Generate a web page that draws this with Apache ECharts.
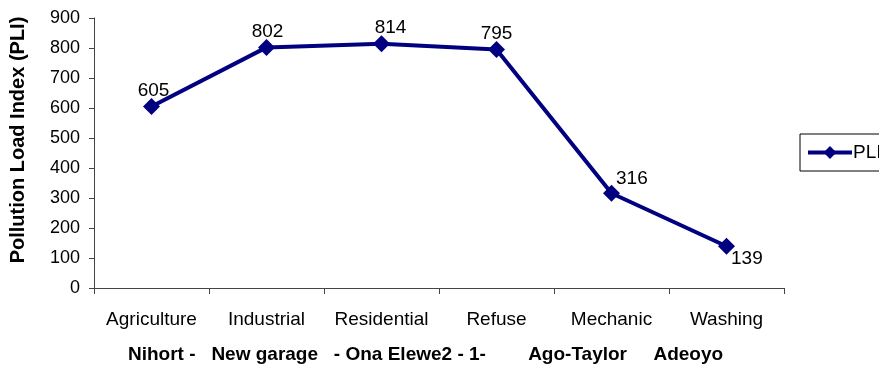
<!DOCTYPE html>
<html>
<head>
<meta charset="utf-8">
<style>
  html, body { margin: 0; padding: 0; background: #fff; }
  #chart { width: 879px; height: 372px; }
</style>
<script src="https://cdn.jsdelivr.net/npm/echarts@6/dist/echarts.min.js"></script>
</head>
<body>
<div id="chart"></div>
<script>
// Pollution load index per sampling site
const categories = ['Agriculture', 'Industrial', 'Residential', 'Refuse', 'Mechanic', 'Washing'];
const pliValues = [605, 802, 814, 795, 316, 139];
const yTicks = { min: 0, max: 900, interval: 100 };
const siteNames = 'Nihort -   New garage   - Ona Elewe2 - 1-        Ago-Taylor     Adeoyo';

const FONT = '"Liberation Sans", Arial, sans-serif';
const NAVY = '#000080';

// label placement per point (above by default, to the right for the last two)
const labelPos = ['top', 'top', 'top', 'top', 'right', 'right'];
const labelOffset = [[2, 6], [1, 6], [9, 6], [0, 6], [-8, -14], [-8, 12]];

const seriesData = pliValues.map((v, i) => ({
  value: v,
  label: { position: labelPos[i], offset: labelOffset[i] }
}));

const chart = echarts.init(document.getElementById('chart'));
chart.setOption({
  animation: false,
  textStyle: { fontFamily: FONT },
  grid: { left: 92, right: 95, top: 18, bottom: 84 },
  title: {
    text: siteNames,
    left: 128,
    top: 345,
    padding: 0,
    textStyle: { fontFamily: FONT, fontSize: 19, fontWeight: 'bold', color: '#000' }
  },
  legend: {
    left: 800,
    top: 134,
    orient: 'vertical',
    padding: [9, 4, 9, 6],
    borderColor: '#000',
    borderWidth: 1,
    borderRadius: 0,
    itemWidth: 44,
    itemHeight: 16,
    itemGap: 0,
    lineStyle: { width: 4, color: NAVY },
    itemStyle: { color: NAVY },
    textStyle: { fontFamily: FONT, fontSize: 19, color: '#000', padding: [0, 0, 0, -4] },
    data: ['PLI']
  },
  xAxis: {
    type: 'category',
    data: categories,
    boundaryGap: true,
    axisLine: { lineStyle: { color: '#444', width: 1 } },
    axisTick: { show: true, interval: 0, length: 6, lineStyle: { color: '#444' } },
    axisLabel: { color: '#000', fontSize: 19, fontFamily: FONT, margin: 22, interval: 0 },
    splitLine: { show: false }
  },
  yAxis: {
    type: 'value',
    min: yTicks.min,
    max: yTicks.max,
    interval: yTicks.interval,
    name: 'Pollution Load Index (PLI)',
    nameLocation: 'middle',
    nameGap: 66,
    nameTextStyle: { fontFamily: FONT, fontSize: 20, fontWeight: 'bold', color: '#000', padding: [0, 0, 0, 26] },
    axisLine: { show: true, lineStyle: { color: '#444', width: 1 } },
    axisTick: { show: true, length: 5, lineStyle: { color: '#444' } },
    axisLabel: { color: '#000', fontSize: 18, fontFamily: FONT, margin: 14 },
    splitLine: { show: false }
  },
  series: [{
    name: 'PLI',
    type: 'line',
    data: seriesData,
    symbol: 'diamond',
    symbolSize: 17,
    lineStyle: { color: NAVY, width: 4 },
    itemStyle: { color: NAVY },
    label: { show: true, color: '#000', fontSize: 19, fontFamily: FONT, distance: 4 }
  }]
});
</script>
</body>
</html>
